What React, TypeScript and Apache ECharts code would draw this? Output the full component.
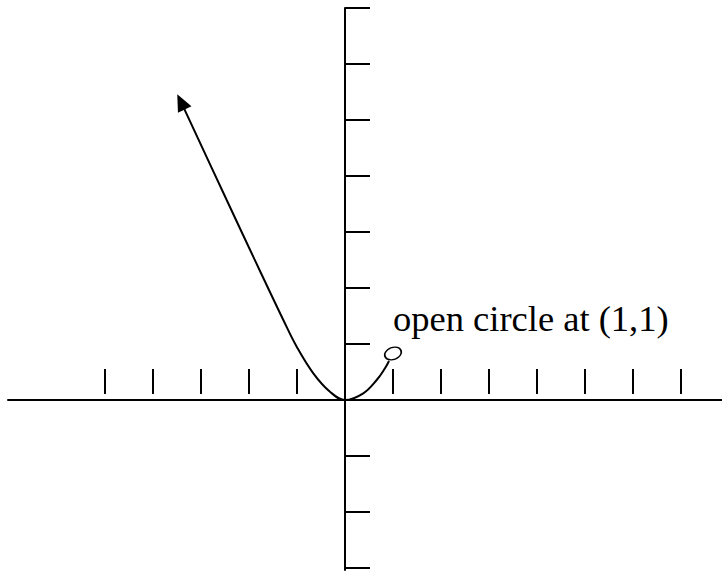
import React, { useEffect, useRef } from "react";
import * as echarts from "echarts";

// Tick positions along each axis (data units)
const xTickValues = [-5, -4, -3, -2, -1, 1, 2, 3, 4, 5, 6, 7];
const yTickValues = [7, 6, 5, 4, 3, 2, 1, -1, -2, -3];

// Curve (left end = arrowhead, right end = open circle)
const curveX = [-3.417, -2.465, -1.771, -1.285, -1.006, -0.66, -0.313, 0, 0.381, 0.66, 0.833, 0.917];
const curveY = [5.323, 3.571, 2.304, 1.429, 0.952, 0.477, 0.148, 0, 0.12, 0.357, 0.566, 0.696];

const arrowPoint = [-3.417, 5.323];
const openPoint = [1.0, 0.83];
const labelText = "open circle at (1,1)";

// Axis extents
const X_MIN = -337 / 48;
const X_MAX = 377 / 48;
const Y_MIN = -170 / 56;
const Y_MAX = 7;

export default function App() {
  const ref = useRef<HTMLDivElement>(null);

  useEffect(() => {
    const chart = echarts.init(ref.current!, null, { renderer: "svg" });
    const curve = curveX.map((x, i) => [x, curveY[i]]);
    chart.setOption({
      animation: false,
      backgroundColor: "#fff",
      grid: { left: 8, right: 0, top: 8, bottom: 1, containLabel: false },
      xAxis: {
        type: "value",
        min: X_MIN,
        max: X_MAX,
        axisLine: { show: true, onZero: true, lineStyle: { color: "#000", width: 2 } },
        axisTick: { show: false },
        axisLabel: { show: false },
        splitLine: { show: false },
      },
      yAxis: {
        type: "value",
        min: Y_MIN,
        max: Y_MAX,
        axisLine: { show: true, onZero: true, lineStyle: { color: "#000", width: 2 } },
        axisTick: { show: false },
        axisLabel: { show: false },
        splitLine: { show: false },
      },
      series: [
        {
          type: "custom",
          data: xTickValues.map((v) => [v, 0]),
          silent: true,
          renderItem: (params: any, api: any) => {
            const p = api.coord([api.value(0), 0]);
            return {
              type: "line",
              shape: { x1: p[0], y1: p[1] - 31, x2: p[0], y2: p[1] - 6 },
              style: { stroke: "#000", lineWidth: 2 },
            };
          },
        },
        {
          type: "custom",
          data: yTickValues.map((v) => [0, v]),
          silent: true,
          renderItem: (params: any, api: any) => {
            const p = api.coord([0, api.value(1)]);
            return {
              type: "line",
              shape: { x1: p[0], y1: p[1], x2: p[0] + 25, y2: p[1] },
              style: { stroke: "#000", lineWidth: 2 },
            };
          },
        },
        {
          type: "line",
          data: curve,
          showSymbol: false,
          symbol: "none",
          smooth: 0.4,
          lineStyle: { color: "#000", width: 2 },
          z: 3,
        },
        {
          type: "scatter",
          data: [arrowPoint],
          symbol: "triangle",
          symbolSize: [15, 17],
          symbolRotate: 26,
          itemStyle: { color: "#000", opacity: 1 },
          z: 4,
        },
        {
          type: "scatter",
          data: [openPoint],
          symbol: "circle",
          symbolSize: [17, 12],
          symbolRotate: 20,
          itemStyle: { color: "#fff", borderColor: "#000", borderWidth: 1.5, opacity: 1 },
          z: 4,
        },
      ],
      graphic: [
        {
          type: "text",
          x: 393,
          y: 318,
          style: {
            text: labelText,
            font: '36.5px "Liberation Serif"',
            fill: "#000",
            textAlign: "left",
            textVerticalAlign: "middle",
            align: "left",
            verticalAlign: "middle",
          },
        },
      ],
    });
    return () => chart.dispose();
  }, []);

  return (
    <div
      ref={ref}
      style={{ position: "fixed", left: 0, top: 0, width: 722, height: 571, background: "#fff" }}
    />
  );
}
